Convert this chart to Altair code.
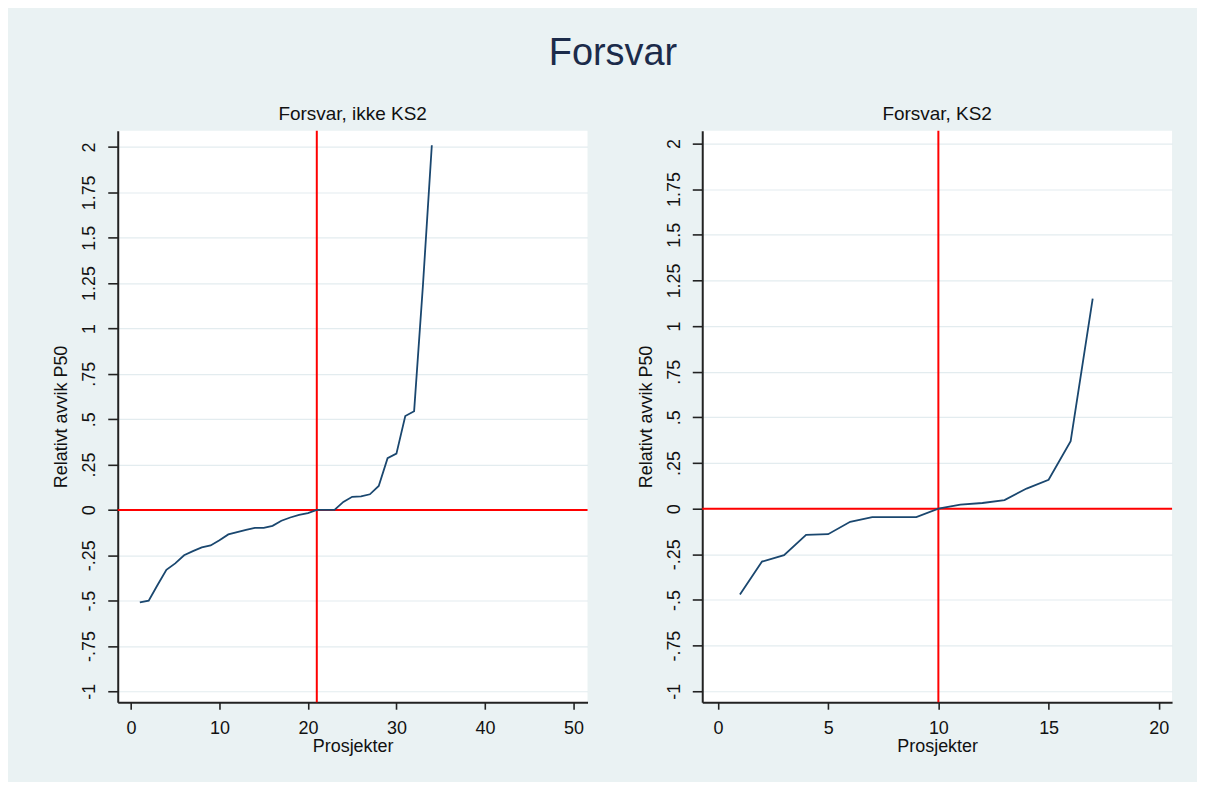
import altair as alt
import pandas as pd

# ---- data ----
x_left = list(range(1, 35))
y_left = [-0.51, -0.50, -0.414, -0.33, -0.295, -0.25, -0.227, -0.207, -0.196, -0.167,
          -0.135, -0.122, -0.11, -0.099, -0.099, -0.088, -0.06, -0.042, -0.027, -0.018,
          0.0, 0.0, 0.0, 0.044, 0.072, 0.075, 0.086, 0.132, 0.285, 0.31,
          0.517, 0.544, 1.24, 2.01]

x_right = list(range(1, 18))
y_right = [-0.47, -0.29, -0.255, -0.144, -0.14, -0.072, -0.046, -0.046, -0.046, 0.0,
           0.022, 0.031, 0.047, 0.11, 0.158, 0.37, 1.15]

ref_x_left = [21]
ref_x_right = [10]
ref_y = [0]

y_ticks = [-1, -0.75, -0.5, -0.25, 0, 0.25, 0.5, 0.75, 1, 1.25, 1.5, 1.75, 2]
y_tick_labels = ["-1", "-.75", "-.5", "-.25", "0", ".25", ".5", ".75", "1", "1.25", "1.5", "1.75", "2"]
x_ticks_left = [0, 10, 20, 30, 40, 50]
x_ticks_right = [0, 5, 10, 15, 20]

main_title = "Forsvar"
panel_titles = ["Forsvar, ikke KS2", "Forsvar, KS2"]
x_title = "Prosjekter"
y_title = "Relativt avvik P50"

# ---- styling ----
FONT = "Liberation Sans"
NAVY = "#1a476f"
BG = "#eaf2f3"
GRID = "#e3ecef"

label_expr = " : ".join(
    f"datum.value == {v} ? '{t}'" for v, t in zip(y_ticks, y_tick_labels)
) + " : ''"


def panel(xs, ys, ref_x, title, x_ticks, x_domain, y_domain):
    df = pd.DataFrame({"x": xs, "y": ys})
    xs_ = alt.Scale(domain=x_domain, nice=False, zero=False)
    ys_ = alt.Scale(domain=y_domain, nice=False, zero=False)
    x_axis = alt.Axis(values=x_ticks, title=x_title, grid=False, format="d",
                      tickSize=7, labelPadding=10, titlePadding=0)
    y_axis = alt.Axis(values=y_ticks, title=y_title, grid=True, gridColor=GRID,
                      gridWidth=1.2, labelExpr=label_expr, labelAngle=270,
                      labelAlign="center", labelBaseline="bottom",
                      tickSize=10, labelPadding=9, titlePadding=10)
    vrule = alt.Chart(pd.DataFrame({"rx": ref_x})).mark_rule(
        color="red", strokeWidth=2).encode(x=alt.X("rx:Q", scale=xs_, axis=x_axis))
    hrule = alt.Chart(pd.DataFrame({"ry": ref_y})).mark_rule(
        color="red", strokeWidth=2).encode(y=alt.Y("ry:Q", scale=ys_, axis=y_axis))
    line = alt.Chart(df).mark_line(color=NAVY, strokeWidth=1.8).encode(
        x=alt.X("x:Q", scale=xs_, axis=x_axis),
        y=alt.Y("y:Q", scale=ys_, axis=y_axis),
    )
    return alt.layer(vrule, hrule, line).properties(
        width=471, height=573,
        title=alt.TitleParams(title, fontSize=19, font=FONT, fontWeight="normal",
                              color="#111111", anchor="middle", frame="group", offset=6),
    )


left = panel(x_left, y_left, ref_x_left, panel_titles[0], x_ticks_left, [-1.5, 51.6], [-1.06, 2.09])
right = panel(x_right, y_right, ref_x_right, panel_titles[1], x_ticks_right, [-0.71, 20.6], [-1.06, 2.07])

chart = alt.hconcat(left, right, spacing=49).properties(
    title=alt.TitleParams(main_title, fontSize=38, font=FONT, fontWeight="normal",
                          color="#1c2b4a", anchor="middle", offset=32),
    background=BG,
    padding={"left": 45, "top": 26, "right": 24, "bottom": 26},
).configure_view(
    fill="white", stroke=None
).configure_axis(
    labelFont=FONT, titleFont=FONT, labelFontSize=18, titleFontSize=18,
    labelColor="#111111", titleColor="#111111", titleFontWeight="normal",
    domainColor="#222222", domainWidth=2, tickColor="#222222", tickWidth=1.6,
)

chart.save("out.html", embed_options={"renderer": "svg", "actions": False})
